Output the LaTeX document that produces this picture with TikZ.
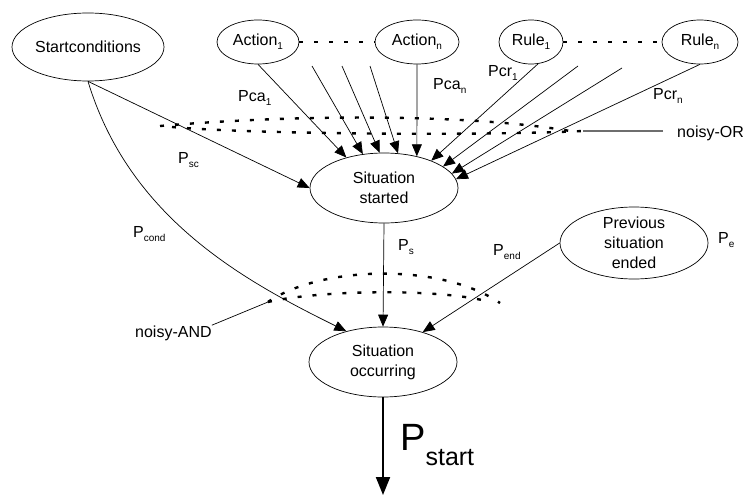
\documentclass[tikz,border=0pt]{standalone}
\usepackage{fontspec}
\setmainfont{Liberation Sans}
\usetikzlibrary{arrows.meta, shapes.geometric}
\definecolor{pointergray}{RGB}{110, 110, 110}
\newcommand{\lsub}[1]{\raisebox{-4pt}{\fontsize{10}{10}\selectfont #1}}

\tikzset{
  event/.style={draw, ellipse, inner sep=0pt, align=center, line width=0.7pt},
  prob/.style={inner sep=0pt, anchor=base west},
  arr/.style={line width=0.7pt, -{Triangle[length=12pt, width=10pt]}},
  noisy/.style={line width=2.4pt, dash pattern=on 4pt off 11pt},
}

\begin{document}
\begin{tikzpicture}[x=1pt, y=-1pt, font=\fontsize{16}{20}\selectfont]
    \useasboundingbox (0,0) rectangle (746,500);

    % events
    \node[event, minimum width=152pt, minimum height=68pt] (sc) at (88,47) {Startconditions};
    \node[event, minimum width=82pt, minimum height=44pt] (a1) at (258,42) {Action\lsub{1}};
    \node[event, minimum width=84pt, minimum height=44pt] (an) at (417,42) {Action\lsub{n}};
    \node[event, minimum width=64pt, minimum height=44pt] (r1) at (531,42) {Rule\lsub{1}};
    \node[event, minimum width=76pt, minimum height=44pt] (rn) at (700,42) {Rule\lsub{n}};
    \node[event, minimum width=148pt, minimum height=70pt] (ss) at (384,188) {Situation\\started};
    \node[event, minimum width=148pt, minimum height=72pt, inner ysep=-2pt] (pe) at (634,243) {Previous\\situation\\ended};
    \node[event, minimum width=148pt, minimum height=70pt] (so) at (383,362) {Situation\\occurring};

    \draw[noisy] (a1) -- (an);
    \draw[noisy] (r1) -- (rn);

    % into situation started
    \draw[arr] (sc.south) -- (ss.west);
    \draw[arr] (a1.south) -- (ss.141);
    \foreach \i/\x/\a in {1/312/122, 2/342/97, 3/370/68} {
      \coordinate (ta\i) at (\x,66);
      \draw[arr] (ta\i) -- (ss.\a);
    }
    \draw[arr] (an.south) -- (ss.44);
    \draw[arr] (r1.-72) -- (ss.30);
    \foreach \i/\x/\y/\a in {1/578/66/20, 2/622/68/12} {
      \coordinate (tr\i) at (\x,\y);
      \draw[arr] (tr\i) -- (ss.\a);
    }
    \draw[arr] (rn.south) -- (ss.7);

    % into situation occurring
    \draw[arr] (sc.south) .. controls (130,220) and (247,282) .. (so.140);
    \draw[arr] (ss.south) -- (so.north);
    \draw[arr] (pe.west) -- (so.37);

    \coordinate (out) at (383,495);
    \draw[line width=2pt, -{Triangle[length=18pt, width=14pt]}] (so.south) -- (out);

    % noisy-OR / noisy-AND
    \draw[noisy] (160,126) .. controls (300,114) and (470,114) .. (570,131);
    \draw[noisy] (172,127) .. controls (250,134) and (480,136) .. (583,131);
    \draw[noisy] (268,302) .. controls (320,266) and (440,262) .. (500,303);
    \draw[noisy] (268,302) .. controls (320,290) and (440,288) .. (490,302);

    \node[prob, inner xsep=14pt] (nor) at (663,137) {noisy-OR};
    \coordinate (ortip) at (583,131);
    \draw[pointergray, line width=1.2pt] (nor.west |- ortip) -- (ortip);

    \node[prob] (nand) at (135,337) {noisy-AND};
    \coordinate (andtip) at (268,302);
    \draw[line width=0.7pt] (nand.north east) -- (andtip);

    % labels
    \node[prob] (lca1) at (238,102) {Pca\lsub{1}};
    \node[prob] (lcan) at (433,90) {Pca\lsub{n}};
    \node[prob] (lcr1) at (488,77) {Pcr\lsub{1}};
    \node[prob] (lcrn) at (653,100) {Pcr\lsub{n}};
    \node[prob] (lsc) at (178,163) {P\lsub{sc}};
    \node[prob] (lcond) at (133,237) {P\lsub{cond}};
    \node[prob] (ls) at (398,250) {P\lsub{s}};
    \node[prob] (lend) at (493,255) {P\lsub{end}};
    \node[prob] (le) at (718,243) {P\lsub{e}};
    \node[prob] (lstart) at (400,450) {\fontsize{38}{38}\selectfont P\raisebox{-15pt}{\fontsize{25}{25}\selectfont start}};
\end{tikzpicture}
\end{document}
